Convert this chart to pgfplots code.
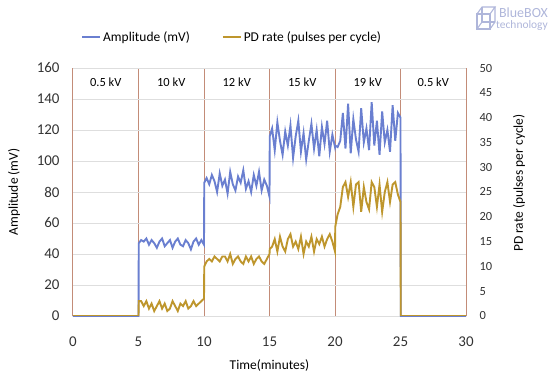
\documentclass[border=0pt]{standalone}
\usepackage{pgfplots}
\pgfplotsset{compat=1.18}
\usepackage{pgfplotstable}
\usepackage{fontspec}
\setmainfont{Carlito}
\definecolor{ampblue}{RGB}{106,127,208}
\definecolor{pdgold}{RGB}{190,150,45}
\definecolor{regline}{RGB}{195,140,120}
\definecolor{gridgray}{RGB}{222,222,222}
\definecolor{ticktext}{RGB}{50,50,50}
\definecolor{logo}{RGB}{175,182,218}
\pgfplotstableread{
t amp pd
0 0 0
5 0 0
5.02 47 3
5.2 49 3
5.4 48 2
5.6 50 3
5.8 46 1.5
6.0 49 2.5
6.2 47 1
6.4 44 2
6.6 48 3
6.8 50 1.5
7.0 45 2.5
7.2 47 1
7.4 49 1.5
7.6 44 3
7.8 48 2
8.0 50 1
8.2 46 2.5
8.4 45 2
8.6 49 3
8.8 47 1.5
9.0 43 2
9.2 48 3
9.4 50 2
9.6 46 2.5
9.8 49 3
10 46 3.5
10.02 86 10
10.2 89 11
10.4 85 11.5
10.6 91 11
10.8 87 12
11.0 80 11.5
11.2 92 11
11.4 84 12
11.6 88 12
11.8 79 11
12.0 93 12.5
12.2 85 10.5
12.4 81 11.5
12.6 90 12
12.8 86 11
13.0 94 10.5
13.2 82 12
13.4 87 11
13.6 80 12
13.8 91 10.5
14.0 84 11.5
14.2 93 12
14.4 81 11
14.6 88 10.5
14.8 84 11.5
15 77 12.5
15.02 116 13.5
15.2 121 14
15.4 107 15.5
15.6 125 13
15.8 113 16
16.0 104 14
16.2 119 13
16.4 110 15.5
16.6 123 16.5
16.8 102 14
17.0 116 15
17.2 126 13.5
17.4 106 16
17.6 118 12.5
17.8 101 15
18.0 113 14
18.2 124 16
18.4 108 13
18.6 120 15.5
18.8 103 14.5
19.0 122 16
19.2 111 14
19.4 126 15.5
19.6 106 16.5
19.8 117 15
20 109 13
20.02 110 18
20.2 109 20.5
20.4 113 22
20.6 131 26
20.8 108 27
21.0 137 24
21.2 105 27
21.4 127 22
21.6 114 26.5
21.8 106 27
22.0 134 21
22.2 112 26
22.4 121 23
22.6 107 21.5
22.8 138 27
23.0 110 26
23.2 126 22
23.4 104 26.5
23.6 132 21
23.8 112 25
24.0 120 27
24.2 106 23
24.4 136 26.5
24.6 113 27
24.8 131 24.5
25 128 23
25.02 0 0
30 0 0
}\datatable
\begin{document}
\begin{tikzpicture}
\useasboundingbox (-73bp,-62bp) rectangle (477bp,316bp);
\begin{axis}[
  scale only axis, width=393bp, height=248bp,
  xmin=0, xmax=30, ymin=0, ymax=160,
  xtick={0,5,...,30}, ytick={0,20,...,160},
  axis line style={draw=none},
  major tick length=0pt,
  xmajorgrids, ymajorgrids,
  x grid style={regline, line width=1bp},
  y grid style={gridgray, line width=0.8bp},
  /pgf/number format/assume math mode=true,
  tick label style={font=\fontsize{15}{15}\selectfont, text=ticktext},
  xticklabel style={anchor=center, yshift=-26bp},
  yticklabel style={anchor=east, xshift=-10bp},
  xlabel={Time(minutes)}, ylabel={Amplitude (mV)},
  every axis x label/.style={at={(axis description cs:0.5,-0.198)}, anchor=center, font=\fontsize{13.5}{13.5}\selectfont},
  every axis y label/.style={at={(axis description cs:-0.150,0.5)}, rotate=90, anchor=center, font=\fontsize{13.5}{13.5}\selectfont},
  legend columns=2,
  legend style={at={(0.405,1.125)}, anchor=center, draw=none, fill=none,
    font=\fontsize{13.5}{13.5}\selectfont, /tikz/every even column/.append style={column sep=30bp}},
  legend image code/.code={\draw[#1] (0bp,0bp) -- (18bp,0bp);},
  clip=false,
]
\addplot[ampblue, line width=1.9bp] table[x=t, y=amp] {\datatable};
\addlegendentry{Amplitude (mV)}
\addlegendimage{pdgold, line width=1.9bp}
\addlegendentry{PD rate (pulses per cycle)}
\foreach \xx/\lab in {2.5/0.5 kV, 7.5/10 kV, 12.5/12 kV, 17.5/15 kV, 22.5/19 kV, 27.5/0.5 kV}{
  \edef\temp{\noexpand\node[font=\noexpand\fontsize{12.5}{12.5}\noexpand\selectfont, text=black] at (axis cs:\xx,151) {\lab};}
  \temp
}
\end{axis}
\begin{axis}[
  scale only axis, width=393bp, height=248bp,
  xmin=0, xmax=30, ymin=0, ymax=50,
  axis y line*=right, axis x line=none,
  axis line style={draw=none},
  ytick={0,5,...,50},
  major tick length=0pt,
  /pgf/number format/assume math mode=true,
  tick label style={font=\fontsize{12.5}{12.5}\selectfont, text=ticktext},
  yticklabel style={anchor=west, xshift=10bp},
  ylabel={PD rate (pulses per cycle)},
  every axis y label/.style={at={(axis description cs:1.135,0.536)}, rotate=90, anchor=center, font=\fontsize{13.5}{13.5}\selectfont},
]
\addplot[pdgold, line width=1.9bp] table[x=t, y=pd] {\datatable};
\end{axis}
% logo
\begin{scope}[logo, line width=1.1bp]
\draw (404bp,287bp) rectangle (417bp,302bp);
\draw (404bp,302bp) -- (409bp,309bp) -- (422bp,309bp) -- (417bp,302bp);
\draw (422bp,309bp) -- (422bp,294bp) -- (417bp,287bp);
\draw (409bp,309bp) -- (409bp,294bp) -- (422bp,294bp);
\draw (409bp,294bp) -- (404bp,287bp);
\end{scope}
\node[anchor=east, text=logo, font=\fontsize{14}{14}\selectfont, inner sep=0pt] at (475bp,303bp) {BlueBOX};
\node[anchor=east, text=logo, font=\fontsize{11.5}{11.5}\selectfont, inner sep=0pt] at (475bp,290bp) {technology};
\end{tikzpicture}
\end{document}
